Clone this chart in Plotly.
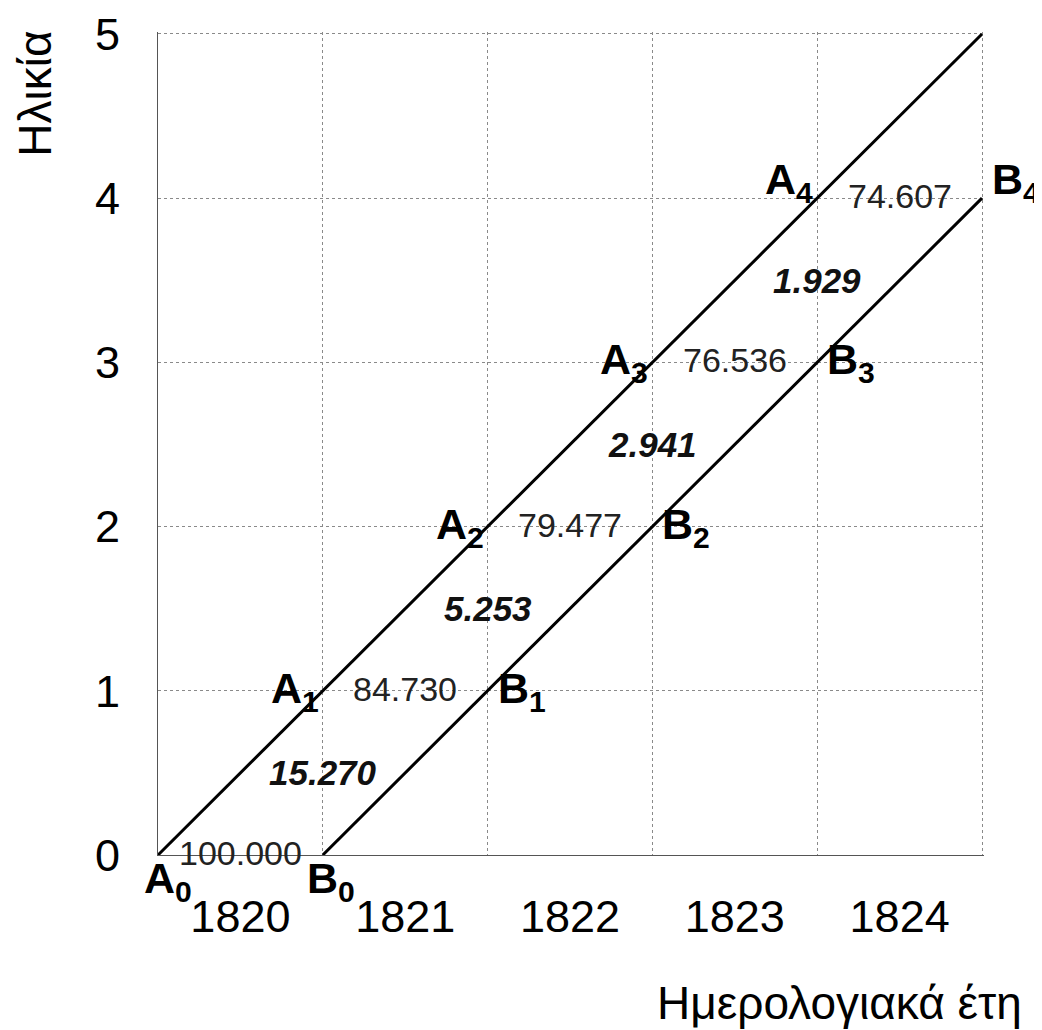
import plotly.graph_objects as go

# ── Data ──────────────────────────────────────────────────────────────────────

years = [1820, 1821, 1822, 1823, 1824]
ages = [0, 1, 2, 3, 4, 5]
survivors = [100000, 84730, 79477, 76536, 74607]   # at exact ages 0..4
deaths = [15270, 5253, 2941, 1929]                  # between consecutive ages

# ── Style ─────────────────────────────────────────────────────────────────────

FONT = "Arial, Liberation Sans, sans-serif"
GRID = "#8a8a8a"
AXIS = "#555555"
EDGE = 5.012   # a little past 5 so plotly keeps the border gridlines at 5


def _fmt(v):
    """Greek thousands separator (100000 -> 100.000)."""
    return f"{v:,}".replace(",", ".")


fig = go.Figure()

# cohort life-lines: A starts at the beginning of the first year, B one year later
a_x = [a for a in ages]
a_y = ages
b_x = [a + 1 for a in ages[:-1]]
b_y = ages[:-1]

for xs, ys in ((a_x, a_y), (b_x, b_y)):
    fig.add_trace(go.Scatter(
        x=xs, y=ys, mode="lines",
        line=dict(color="black", width=3),
        hoverinfo="skip", showlegend=False,
    ))

label_font = dict(family=FONT, size=43, color="black")
num_font = dict(family=FONT, size=34, color="#222222")
dth_font = dict(family=FONT, size=35, color="#111111")

for k in range(len(survivors)):
    lift = 16 if k == 4 else 0
    # A_k point at (k, k)
    if k == 0:
        fig.add_annotation(x=a_x[k], y=a_y[k], text=f"<b>A<sub>{k}</sub></b>",
                           showarrow=False, font=label_font,
                           xanchor="center", yanchor="middle",
                           xshift=10, yshift=-26)
    else:
        fig.add_annotation(x=a_x[k], y=a_y[k], text=f"<b>A<sub>{k}</sub></b>",
                           showarrow=False, font=label_font,
                           xanchor="right", yanchor="middle",
                           xshift=-2, yshift=lift)
    # B_k point at (k+1, k)
    if k == 0:
        fig.add_annotation(x=b_x[k], y=b_y[k], text=f"<b>B<sub>{k}</sub></b>",
                           showarrow=False, font=label_font,
                           xanchor="center", yanchor="middle",
                           xshift=8, yshift=-26)
    else:
        fig.add_annotation(x=b_x[k], y=b_y[k], text=f"<b>B<sub>{k}</sub></b>",
                           showarrow=False, font=label_font,
                           xanchor="left", yanchor="middle",
                           xshift=8, yshift=lift)
    # survivors at exact age k, middle of the A_k–B_k segment
    fig.add_annotation(x=(a_x[k] + b_x[k]) / 2, y=k, text=_fmt(survivors[k]),
                       showarrow=False, font=num_font,
                       xanchor="center", yanchor="middle", yshift=2)

for k, d in enumerate(deaths):
    fig.add_annotation(x=b_x[k], y=k + 0.5, text=f"<b><i>{_fmt(d)}</i></b>",
                       showarrow=False, font=dth_font,
                       xanchor="center", yanchor="middle")

# axis titles
fig.add_annotation(xref="paper", yref="paper", x=0.8246, y=-0.18,
                   text="Ημερολογιακά έτη", showarrow=False,
                   font=dict(family=FONT, size=46, color="black"),
                   xanchor="center", yanchor="middle")
fig.add_annotation(xref="paper", yref="paper", x=-0.149, y=0.925,
                   text="Ηλικία", showarrow=False, textangle=-90,
                   font=dict(family=FONT, size=46, color="black"),
                   xanchor="center", yanchor="middle")

fig.update_layout(
    width=1034, height=1022,
    margin=dict(l=150, r=58, t=24, b=175),
    plot_bgcolor="white", paper_bgcolor="white",
    showlegend=False,
    font=dict(family=FONT, color="black"),
)
fig.update_xaxes(
    range=[0, EDGE],
    tickmode="array",
    tickvals=[i + 0.5 for i in range(len(years))],
    ticktext=[str(y) for y in years],
    tickfont=dict(size=45),
    ticks="", ticklabelstandoff=22, ticklabeloverflow="allow",
    showgrid=False, zeroline=False, automargin=False,
    showline=True, linecolor=AXIS, linewidth=1,
    minor=dict(tickmode="array", tickvals=list(range(1, len(years) + 1)),
               showgrid=True, gridcolor=GRID, gridwidth=1, griddash="dot",
               ticks=""),
)
fig.update_yaxes(
    range=[0, EDGE], tickmode="array", tickvals=ages,
    tickfont=dict(size=45),
    ticks="", ticklabelstandoff=28, ticklabeloverflow="allow",
    showgrid=True, gridcolor=GRID, gridwidth=1, griddash="dot",
    zeroline=False, automargin=False,
    showline=True, linecolor=AXIS, linewidth=1,
)

fig.write_html("out.html")
